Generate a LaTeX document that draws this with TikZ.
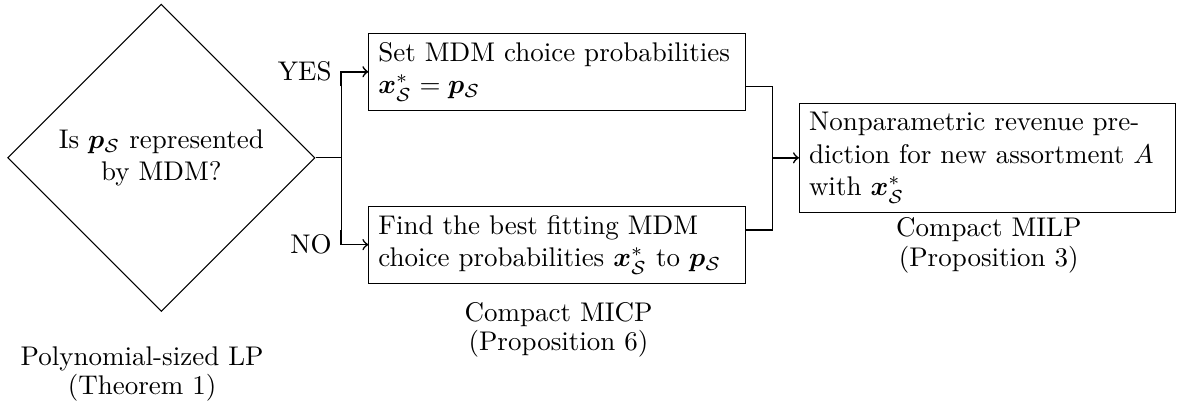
\documentclass[tikz,border=0pt]{standalone}
\usepackage{amsmath,bm}
\usetikzlibrary{shapes.geometric}
\begin{document}
\begin{tikzpicture}[
  box/.style={draw,rectangle,text width=4.65cm,align=left,inner xsep=3.5pt},
  dec/.style={draw,diamond,aspect=1,minimum width=4cm,minimum height=4cm,align=center,inner sep=0pt},
  lbl/.style={align=center,font=\fontsize{10}{10.8}\selectfont},
  arr/.style={->,semithick}
]
    \useasboundingbox (0,0) rectangle (15.32,5.234);
    \node[dec] (d) at (2.10,3.18) {Is $\bm{p}_{\mathcal{S}}$ represented\\by MDM?};
    \node[box] (b1) at (7.25,4.30) {Set MDM choice probabilities $\bm{x}^*_{\mathcal{S}} = \bm{p}_{\mathcal{S}}$};
    \node[box] (b2) at (7.25,2.05) {Find the best fitting MDM choice probabilities $\bm{x}^*_{\mathcal{S}}$ to $\bm{p}_{\mathcal{S}}$};
    \node[box] (b3) at (12.855,3.18) {Nonparametric revenue prediction for new assortment $A$ with $\bm{x}^*_{\mathcal{S}}$};
    \node[lbl] (l1) at (1.85,0.37) {Polynomial-sized LP\\(Theorem 1)};
    \node[lbl] (l2) at (7.27,0.94) {Compact MICP\\(Proposition 6)};
    \node[lbl] (l3) at (12.87,2.04) {Compact MILP\\(Proposition 3)};
    \coordinate (fk) at (4.44,3.18);
    \coordinate (fkup) at (4.44,4.11);
    \coordinate (fkdn) at (4.44,2.24);
    \coordinate (mg) at (10.05,3.18);
    \node[anchor=east] (yes) at (fk |- b1.west) {YES};
    \node[anchor=east] (no) at (fk |- b2.west) {NO};
    \draw (d.east) -- (fk);
    \draw (fkup) -- (fkdn);
    \draw[arr] (fkup) |- (b1.west);
    \draw[arr] (fkdn) |- (b2.west);
    \draw (b1.east |- fkup) -| (mg |- fkdn) -- (b2.east |- fkdn);
    \draw[arr] (mg) -- (b3.west);
\end{tikzpicture}
\end{document}
